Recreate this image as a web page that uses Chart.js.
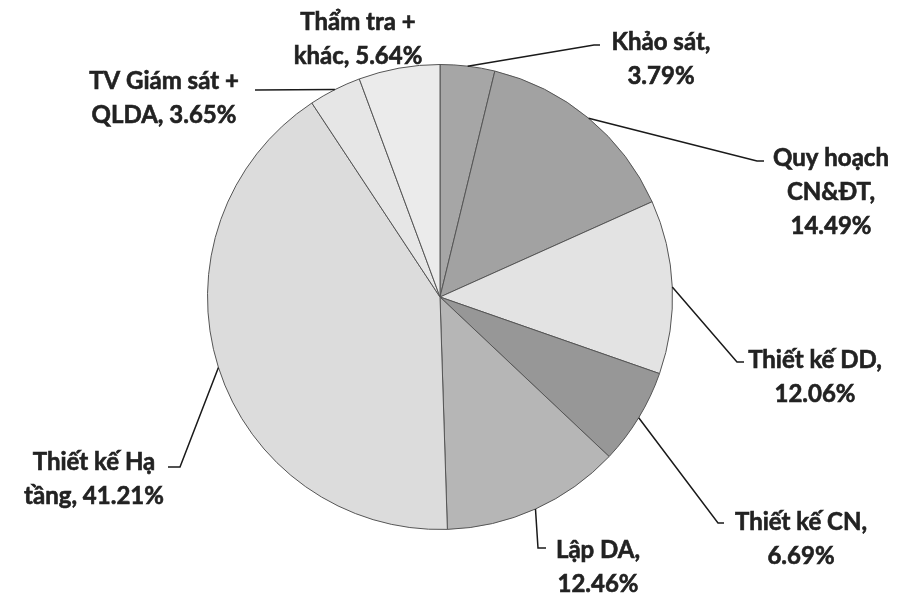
<!DOCTYPE html>
<html>
<head>
<meta charset="utf-8">
<script src="https://cdn.jsdelivr.net/npm/chart.js@4.4.1/dist/chart.umd.min.js"></script>
<style>
  html, body { margin: 0; padding: 0; background: #ffffff; }
  #wrap { width: 903px; height: 597px; position: relative; }
</style>
</head>
<body>
<div id="wrap"><canvas id="c" width="903" height="597"></canvas></div>
<script>
// ---- data ----
const categories = ["Khảo sát", "Quy hoạch CN&ĐT", "Thiết kế DD", "Thiết kế CN", "Lập DA", "Thiết kế Hạ tầng", "TV Giám sát + QLDA", "Thẩm tra + khác"];
const shares = [3.79, 14.49, 12.06, 6.69, 12.46, 41.21, 3.65, 5.64];
const labelLines = [
  ["Khảo sát,", "3.79%"],
  ["Quy hoạch", "CN&ĐT,", "14.49%"],
  ["Thiết kế DD,", "12.06%"],
  ["Thiết kế CN,", "6.69%"],
  ["Lập DA,", "12.46%"],
  ["Thiết kế Hạ", "tầng, 41.21%"],
  ["TV Giám sát +", "QLDA, 3.65%"],
  ["Thẩm tra +", "khác, 5.64%"]
];

// ---- styling / layout ----
const sliceColors = ["#a6a6a6", "#a2a2a2", "#e3e3e3", "#979797", "#b6b6b6", "#dcdcdc", "#e6e6e6", "#ebebeb"];
// label layout: text centre x, first line middle y, leader end (ex, ey), elbow x (null = none)
const labelLayout = [
  {cx: 661, y: 42,  ex: 594, ey: 45,  hx: 600},
  {cx: 831, y: 158, ex: 757, ey: 161, hx: 764},
  {cx: 815, y: 360, ex: 737, ey: 362, hx: 744},
  {cx: 801, y: 522, ex: 718, ey: 523, hx: 724},
  {cx: 598, y: 550, ex: 538, ey: 548, hx: 546},
  {cx: 94,  y: 462, ex: 180, ey: 467, hx: 168},
  {cx: 164, y: 81,  ex: 255, ey: 90,  hx: null},
  {cx: 358, y: 22,  ex: null, ey: null, hx: null}
];
const FONT = "bold 24px Lato, 'Open Sans', sans-serif";
const LINE_H = 34;

const labelPlugin = {
  id: 'pieLabels',
  afterDatasetsDraw(chart) {
    const ctx = chart.ctx;
    const meta = chart.getDatasetMeta(0);
    ctx.save();
    meta.data.forEach((arc, i) => {
      const L = labelLayout[i];
      const mid = (arc.startAngle + arc.endAngle) / 2;
      const r = arc.outerRadius;
      const px = arc.x + Math.cos(mid) * r;
      const py = arc.y + Math.sin(mid) * r;
      if (L.ex !== null) {
        ctx.strokeStyle = '#1a1a1a';
        ctx.lineWidth = 1.5;
        ctx.beginPath();
        ctx.moveTo(px, py);
        ctx.lineTo(L.ex, L.ey);
        if (L.hx !== null) ctx.lineTo(L.hx, L.ey);
        ctx.stroke();
      }
      ctx.fillStyle = '#222222';
      ctx.strokeStyle = '#222222';
      ctx.lineWidth = 0.6;
      ctx.font = FONT;
      ctx.textAlign = 'center';
      ctx.textBaseline = 'middle';
      labelLines[i].forEach((t, k) => {
        ctx.fillText(t, L.cx, L.y + k * LINE_H);
        ctx.strokeText(t, L.cx, L.y + k * LINE_H);
      });
    });
    ctx.restore();
  }
};

new Chart(document.getElementById('c'), {
  type: 'pie',
  data: {
    labels: categories,
    datasets: [{
      data: shares,
      backgroundColor: sliceColors,
      borderColor: '#555555',
      borderWidth: 1
    }]
  },
  options: {
    responsive: false,
    animation: false,
    layout: { padding: { left: 207, right: 230, top: 64, bottom: 67 } },
    plugins: { legend: { display: false }, tooltip: { enabled: false } }
  },
  plugins: [labelPlugin]
});
</script>
</body>
</html>
